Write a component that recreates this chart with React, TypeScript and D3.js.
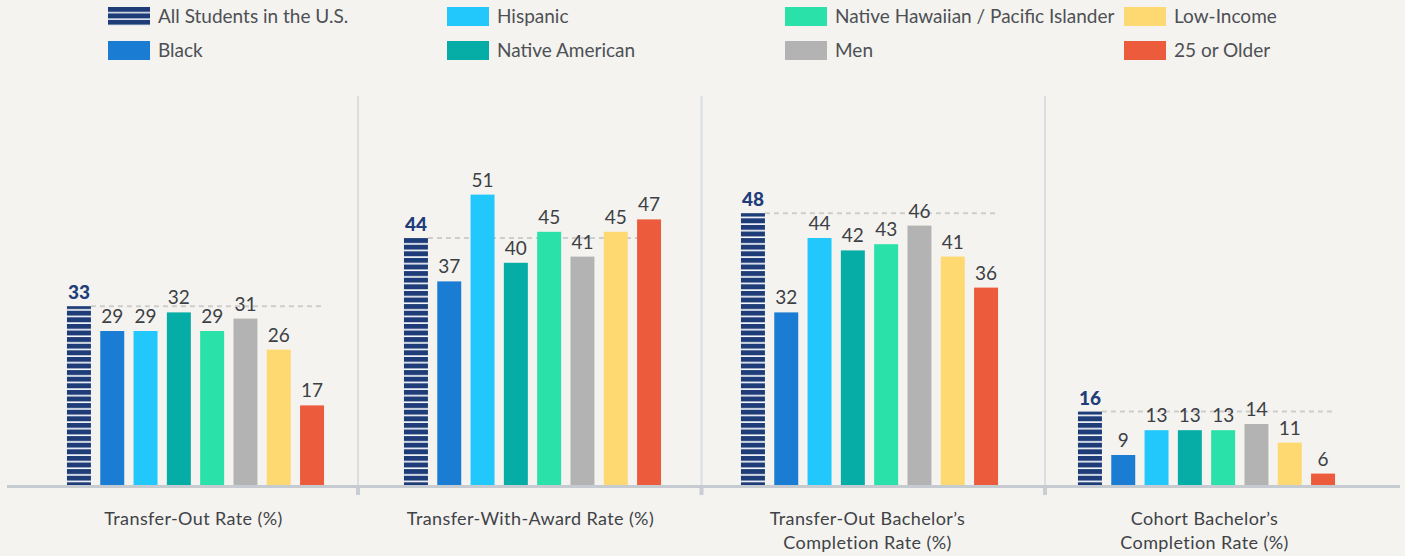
import React from "react";
import * as d3 from "d3";

const groups = [
  "All Students in the U.S.",
  "Black",
  "Hispanic",
  "Native American",
  "Native Hawaiian / Pacific Islander",
  "Men",
  "Low-Income",
  "25 or Older",
];
const colors = ["#1d3c78", "#1b7cd3", "#22c7fc", "#06aca6", "#2ae1aa", "#b3b3b3", "#fed870", "#ed5b3d"];

const metrics = ["Transfer-Out Rate (%)", "Transfer-With-Award Rate (%)", "Transfer-Out Bachelor’s Completion Rate (%)", "Cohort Bachelor’s Completion Rate (%)"];
const metricLabels = [
  ["Transfer-Out Rate (%)"],
  ["Transfer-With-Award Rate (%)"],
  ["Transfer-Out Bachelor’s", "Completion Rate (%)"],
  ["Cohort Bachelor’s", "Completion Rate (%)"],
];

const transferOut = [33, 29, 29, 32, 29, 31, 26, 17];
const transferWithAward = [44, 37, 51, 40, 45, 41, 45, 47];
const transferOutBachelor = [48, 32, 44, 42, 43, 46, 41, 36];
const cohortBachelor = [16, 9, 13, 13, 13, 14, 11, 6];
const values = [transferOut, transferWithAward, transferOutBachelor, cohortBachelor];

const W = 1405;
const H = 556;
const BASE = 486;
const FONT = "Lato, 'Open Sans', sans-serif";

export default function App() {
  const y = d3.scaleLinear().domain([4, 60]).range([BASE, BASE - 56 * 6.2]);
  const xPanel = d3.scaleBand<string>().domain(metrics).range([27, 1375]).padding(0);
  const xBar = d3
    .scaleBand<string>()
    .domain(groups)
    .range([0, xPanel.bandwidth()])
    .paddingInner(0.28)
    .paddingOuter(1.2);
  const bw = xBar.bandwidth();

  const dividerStart = 358;
  const dividerStep = 343.5;
  const dividers = [0, 1, 2].map((i) => dividerStart + i * dividerStep);

  const legendCols = [108, 447, 785, 1124];
  const legendRows = [16.5, 50.5];
  const legendOrder = [0, 2, 4, 6, 1, 3, 5, 7];

  return (
    <svg width={W} height={H} style={{ position: "absolute", left: 0, top: 0, background: "#f4f3ef" }} fontFamily={FONT}>
      <defs>
        <pattern id="stripes" patternUnits="userSpaceOnUse" width={10} height={6.6} y={0.5}>
          <rect x={0} y={0} width={10} height={6.6} fill="#ffffff" />
          <rect x={0} y={0} width={10} height={5} fill={colors[0]} />
        </pattern>
        <pattern id="legendStripes" patternUnits="userSpaceOnUse" width={10} height={6.4} y={legendRows[0] - 9.5}>
          <rect x={0} y={0} width={10} height={6.4} fill="#ffffff" />
          <rect x={0} y={0} width={10} height={5} fill={colors[0]} />
        </pattern>
      </defs>
      <rect x={0} y={0} width={W} height={H} fill="#f4f3ef" />

      {/* legend */}
      {legendOrder.map((gi, k) => {
        const col = k % 4;
        const row = Math.floor(k / 4);
        const lx = legendCols[col];
        const ly = legendRows[row];
        return (
          <g key={groups[gi]}>
            <rect
              x={lx}
              y={ly - 9.5}
              width={42}
              height={19}
              fill={gi === 0 ? "url(#legendStripes)" : colors[gi]}
            />
            <text x={lx + 50} y={ly} dy="0.35em" fontSize={19} fill="#4d5055">
              {groups[gi]}
            </text>
          </g>
        );
      })}

      {/* dividers */}
      {dividers.map((dx, i) => (
        <g key={i}>
          <line x1={dx} x2={dx} y1={96} y2={BASE} stroke="#d9dee3" strokeWidth={2} />
          <rect x={dx - 2} y={BASE} width={4} height={9} fill="#c8ced3" />
        </g>
      ))}

      {/* bars */}
      {metrics.map((m, mi) => {
        const px = xPanel(m)!;
        const vals = values[mi];
        const refY = y(vals[0]);
        const firstRight = px + xBar(groups[0])! + bw;
        const lastRight = px + xBar(groups[groups.length - 1])! + bw - 3;
        return (
          <g key={m}>
            <line
              x1={firstRight}
              x2={lastRight}
              y1={refY}
              y2={refY}
              stroke="#cdcdcd"
              strokeWidth={2}
              strokeDasharray="5,4"
            />
            {groups.map((g, gi) => {
              const bx = px + xBar(g)!;
              const by = y(vals[gi]);
              return (
                <g key={g}>
                  <rect
                    x={bx}
                    y={by}
                    width={bw}
                    height={BASE - by}
                    fill={gi === 0 ? "url(#stripes)" : colors[gi]}
                  />
                  <text
                    x={bx + bw / 2}
                    y={by - (gi === 0 ? 7 : 8)}
                    textAnchor="middle"
                    fontSize={19}
                    fontWeight={gi === 0 ? 900 : 400}
                    fill={gi === 0 ? "#1f3d7a" : "#3c3f44"}
                  >
                    {vals[gi]}
                  </text>
                </g>
              );
            })}
            {metricLabels[mi].map((line, li) => (
              <text
                key={li}
                x={px + xPanel.bandwidth() / 2 - 2}
                y={519 + li * 24}
                dy="0.35em"
                textAnchor="middle"
                fontSize={18}
                letterSpacing={0.4}
                fill="#3f4247"
              >
                {line}
              </text>
            ))}
          </g>
        );
      })}

      {/* axis */}
      <rect x={7} y={BASE - 1} width={1393} height={3} fill="#c5cbd0" />
    </svg>
  );
}
